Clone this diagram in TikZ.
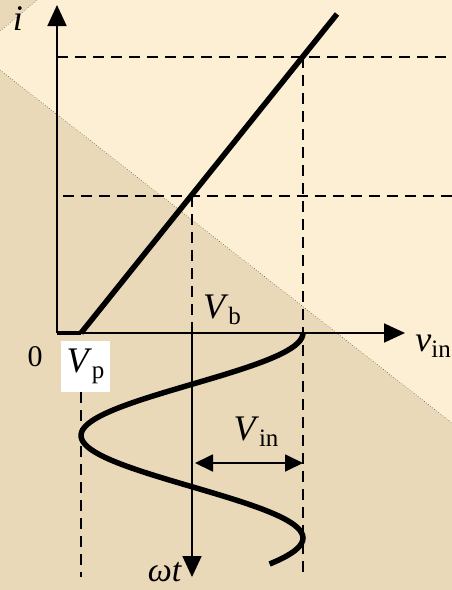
\documentclass[tikz,border=0pt]{standalone}
\usepackage{fontspec}
\setmainfont{Liberation Serif}
\usetikzlibrary{arrows.meta, positioning, calc}

\definecolor{paperlight}{HTML}{FCEFD3}
\definecolor{paperdark}{HTML}{EAD9B8}

\newcommand{\bigtxt}{\fontsize{36}{40}\selectfont}
\newcommand{\subtxt}[2]{\textit{#1}\raisebox{-6pt}{\fontsize{25}{25}\selectfont #2}}

\begin{document}
\begin{tikzpicture}[
    x=1pt, y=-1pt,
    axis/.style={line width=1.8pt, -{Triangle[length=21pt, width=19pt]}},
    span/.style={line width=1.8pt, {Triangle[length=18pt, width=17pt]}-{Triangle[length=18pt, width=17pt]}},
    guide/.style={line width=2.8pt, dash pattern=on 11pt off 7pt},
    curve/.style={line width=5.5pt, line cap=butt},
    lbl/.style={font=\bigtxt, inner sep=0pt}
]

\useasboundingbox (0,0) rectangle (452,590);
\clip (0,0) rectangle (452,590);

% paper background
\fill[paperdark] (0,0) rectangle (452,590);
\fill[paperlight] (0,31) -- (37,0) -- (452,0) -- (452,423) -- (0,70) -- cycle;
\draw[black!70, line width=0.6pt, dotted] (0,31) -- (37,0);
\draw[black!70, line width=0.6pt, dotted] (0,70) -- (452,423);

% axes points
\coordinate (o_pt) at (57,333);
\coordinate (i_tip) at (57,5);
\coordinate (v_tip) at (405,333);
\coordinate (vp_pt) at (81,333);
\coordinate (vb_pt) at (192,333);
\coordinate (peak_pt) at (303,333);
\coordinate (wt_tip) at (192,577);
\coordinate (line_top) at (337,14);

% dashed guides
\draw[guide] (57,57) -- (452,57);
\draw[guide] (63,196) -- (452,196);
\draw[guide] (303,57) -- (303,577);
\draw[guide] (192,196) -- (vb_pt);
\draw[guide] (81,392) -- (81,577);

% axes
\draw[axis] (o_pt) -- (i_tip);
\draw[axis] (o_pt) -- (v_tip);
\draw[axis] (vb_pt) -- (wt_tip);
\draw[line width=3.5pt] (o_pt) -- (vp_pt);

% characteristic and input wave
\draw[curve] (vp_pt) -- (line_top);
\draw[curve] plot[domain=0:231, samples=90, smooth] ({192+111*cos(1.7561*\x)}, {333+\x});

% amplitude
\coordinate (amp_l) at (195,463);
\coordinate (amp_r) at (303,463);
\draw[span] (amp_l) -- (amp_r);

% labels
\node[lbl] (i_lbl) at (18,19) {\textit{i}};
\node[lbl, font=\fontsize{30}{32}\selectfont] (zero_lbl) at (35,357) {0};
\node[lbl, fill=white, minimum width=49pt, minimum height=51pt] (vp_lbl) at (85.5,366.5) {\subtxt{V}{p}};
\node[lbl] (vb_lbl) at (222,310) {\subtxt{V}{b}};
\node[lbl, anchor=east] (vin_lbl) at (451,346) {\subtxt{v}{in}};
\node[lbl] (amp_lbl) at (256,432) {\subtxt{V}{in}};
\node[lbl, anchor=south, font=\fontsize{34}{36}\selectfont] (wt_lbl) at (165,582) {\textit{ωt}};

\end{tikzpicture}
\end{document}
